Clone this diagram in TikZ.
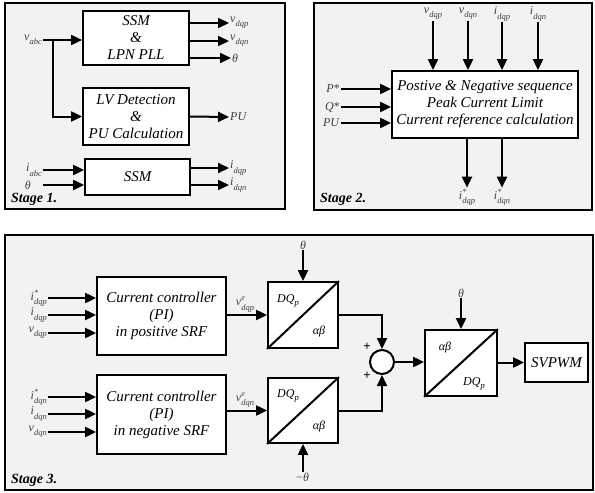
\documentclass[tikz,border=0pt]{standalone}
\usepackage{fontspec}
\setmainfont{Liberation Serif}
\usetikzlibrary{arrows.meta}
\newcommand{\lb}[3]{\textit{#1}\rlap{\raisebox{0.42em}{\fontsize{8}{8}\selectfont\textit{#3}}}\raisebox{-0.35em}{\fontsize{8.5}{9}\selectfont\textit{#2}}}
\begin{document}
\begin{tikzpicture}[x=1pt,y=-1pt,
  panel/.style={draw=black, line width=1.8pt, fill=black!5},
  blk/.style={draw, line width=1.8pt, fill=white, align=center, inner sep=1pt, font=\fontsize{15}{17}\selectfont\itshape},
  conv/.style={draw, line width=1.8pt, fill=white, inner sep=0pt},
  arr/.style={line width=2pt, -{Triangle[length=11pt,width=10pt]}},
  ln/.style={line width=2pt},
  lbl/.style={font=\fontsize{12}{13}\selectfont, text=black!75, inner sep=1pt},
  clbl/.style={font=\fontsize{12}{13}\selectfont, inner sep=0pt},
  stg/.style={font=\fontsize{14}{16}\selectfont\bfseries\itshape, anchor=south west, inner sep=1pt}]
\useasboundingbox (0,0) rectangle (595,493);
% panels
\draw[panel] (5,3) rectangle (285,209);
\draw[panel] (314,3) rectangle (592,210);
\draw[panel] (5,235) rectangle (593,490);

% ---------- Stage 1 ----------
\node[blk, minimum width=106pt, minimum height=54pt] (ssm) at (136,38) {SSM\\\&\\LPN PLL};
\node[blk, minimum width=106pt, minimum height=57pt] (lv) at (136,116.5) {LV Detection\\\&\\PU Calculation};
\node[blk, minimum width=105pt, minimum height=36pt] (ssm2) at (137.5,177) {SSM};
\node[lbl, anchor=east] (vabc) at (43,40) {\lb{v}{abc}{}};
\coordinate (j) at (53,40);
\draw[ln] (vabc.east) -- (j);
\draw[arr] (j) -- (ssm.west |- j);
\draw[arr] (j) |- (lv.west);
\node[lbl, anchor=west] (o1) at (229,23) {\lb{v}{dqp}{}};
\node[lbl, anchor=west] (o2) at (229,41) {\lb{v}{dqn}{}};
\node[lbl, anchor=west] (o3) at (231,58) {\textit{θ}};
\draw[arr] (ssm.east |- o1) -- (o1.west);
\draw[arr] (ssm.east |- o2) -- (o2.west);
\draw[arr] (ssm.east |- o3) -- (o3.west);
\node[lbl, anchor=west] (pu) at (229,117) {\textit{PU}};
\draw[arr] (lv.east) -- (pu.west);
\node[lbl, anchor=east] (iabc) at (43,170) {\lb{i}{abc}{}};
\node[lbl, anchor=east] (th1) at (32,185) {\textit{θ}};
\draw[arr] (iabc.east) -- (ssm2.west |- iabc);
\draw[arr] (th1.east -| iabc.east) -- (ssm2.west |- th1);
\node[lbl, anchor=west] (i1) at (229,168) {\lb{i}{dqp}{}};
\node[lbl, anchor=west] (i2) at (229,185) {\lb{i}{dqn}{}};
\draw[arr] (ssm2.east |- i1) -- (i1.west);
\draw[arr] (ssm2.east |- i2) -- (i2.west);
\node[stg] (s1) at (10,207) {Stage 1.};

% ---------- Stage 2 ----------
\node[blk, minimum width=186pt, minimum height=67pt] (pnc) at (485,104.5) {Postive \& Negative sequence\\Peak Current Limit\\Current reference calculation};
\node[lbl] (t1) at (433,14) {\lb{v}{dqp}{}};
\node[lbl] (t2) at (468,14) {\lb{v}{dqn}{}};
\node[lbl] (t3) at (502,14) {\lb{i}{dqp}{}};
\node[lbl] (t4) at (538,14) {\lb{i}{dqn}{}};
\foreach \t in {t1,t2,t3,t4} {\draw[arr] (\t.south) -- (\t |- pnc.north);}
\node[lbl, anchor=east] (ps) at (341,89) {\textit{P}*};
\node[lbl, anchor=east] (qs) at (341,107) {\textit{Q}*};
\node[lbl, anchor=east] (pu2) at (341,123) {\textit{PU}};
\foreach \t in {ps,qs,pu2} {\draw[arr] (\t.east) -- (pnc.west |- \t);}
\node[lbl] (b1) at (467,197) {\lb{i}{dqp}{*}};
\node[lbl] (b2) at (502,197) {\lb{i}{dqn}{*}};
\draw[arr] (b1 |- pnc.south) -- (b1.north);
\draw[arr] (b2 |- pnc.south) -- (b2.north);
\node[stg] (s2) at (319,207) {Stage 2.};

% ---------- Stage 3 ----------
\node[blk, minimum width=129pt, minimum height=78pt] (c1) at (161.5,316) {Current controller\\(PI)\\in positive SRF};
\node[blk, minimum width=129pt, minimum height=79pt] (c2) at (161.5,414.5) {Current controller\\(PI)\\in negative SRF};
\node[lbl, anchor=east] (a1) at (48,298) {\lb{i}{dqp}{*}};
\node[lbl, anchor=east] (a2) at (48,315) {\lb{i}{dqp}{}};
\node[lbl, anchor=east] (a3) at (48,333) {\lb{v}{dqp}{}};
\node[lbl, anchor=east] (a4) at (48,397) {\lb{i}{dqn}{*}};
\node[lbl, anchor=east] (a5) at (48,414) {\lb{i}{dqn}{}};
\node[lbl, anchor=east] (a6) at (48,432) {\lb{v}{dqn}{}};
\foreach \t in {a1,a2,a3} {\draw[arr] (\t.east) -- (c1.west |- \t);}
\foreach \t in {a4,a5,a6} {\draw[arr] (\t.east) -- (c2.west |- \t);}

\node[conv, minimum width=70pt, minimum height=66pt] (d1) at (303,315) {};
\draw[ln] (d1.south west) -- (d1.north east);
\node[clbl] (d1a) at (288,301) {\textit{DQ}\raisebox{-0.3em}{\fontsize{8.5}{9}\selectfont\textit{p}}};
\node[clbl] (d1b) at (319,332) {\textit{αβ}};
\node[conv, minimum width=70pt, minimum height=65pt] (d2) at (303,410.5) {};
\draw[ln] (d2.south west) -- (d2.north east);
\node[clbl] (d2a) at (288,396) {\textit{DQ}\raisebox{-0.3em}{\fontsize{8.5}{9}\selectfont\textit{p}}};
\node[clbl] (d2b) at (319,427) {\textit{αβ}};

\draw[arr] (c1.east |- d1) -- (d1.west) node[lbl, pos=0.45, above=1pt] (ve1) {\lb{v}{dqp}{e}};
\draw[arr] (c2.east |- d2) -- (d2.west) node[lbl, pos=0.45, above=1pt] (ve2) {\lb{v}{dqn}{e}};

\node[lbl] (th2) at (303,245) {\textit{θ}};
\draw[arr] (th2.south) -- (d1.north);
\node[lbl] (th3) at (302,477) {\textit{−θ}};
\draw[arr] (th3.north -| d2.south) -- (d2.south);

\node[circle, draw, line width=2pt, fill=white, minimum size=24pt, inner sep=0pt] (sum) at (382,362) {};
\draw[arr] (d1.east) -| (sum.north);
\draw[arr] (d2.east) -| (sum.south);
\node[font=\bfseries\fontsize{13}{13}\selectfont, inner sep=0pt] (p1) at (367,347) {+};
\node[font=\bfseries\fontsize{13}{13}\selectfont, inner sep=0pt] (p2) at (367,376) {+};

\node[conv, minimum width=72pt, minimum height=66pt] (d3) at (461,363) {};
\draw[ln] (d3.south west) -- (d3.north east);
\node[clbl] (d3a) at (445,348) {\textit{αβ}};
\node[clbl] (d3b) at (474,384) {\textit{DQ}\raisebox{-0.3em}{\fontsize{8.5}{9}\selectfont\textit{p}}};
\node[lbl] (th4) at (461,293) {\textit{θ}};
\draw[arr] (th4.south) -- (d3.north);
\draw[arr] (sum.east) -- (d3.west |- sum);

\node[blk, minimum width=63pt, minimum height=39pt] (sv) at (556.5,362.5) {SVPWM};
\draw[arr] (d3.east |- sv) -- (sv.west);
\node[stg] (s3) at (10,488) {Stage 3.};
\end{tikzpicture}
\end{document}
